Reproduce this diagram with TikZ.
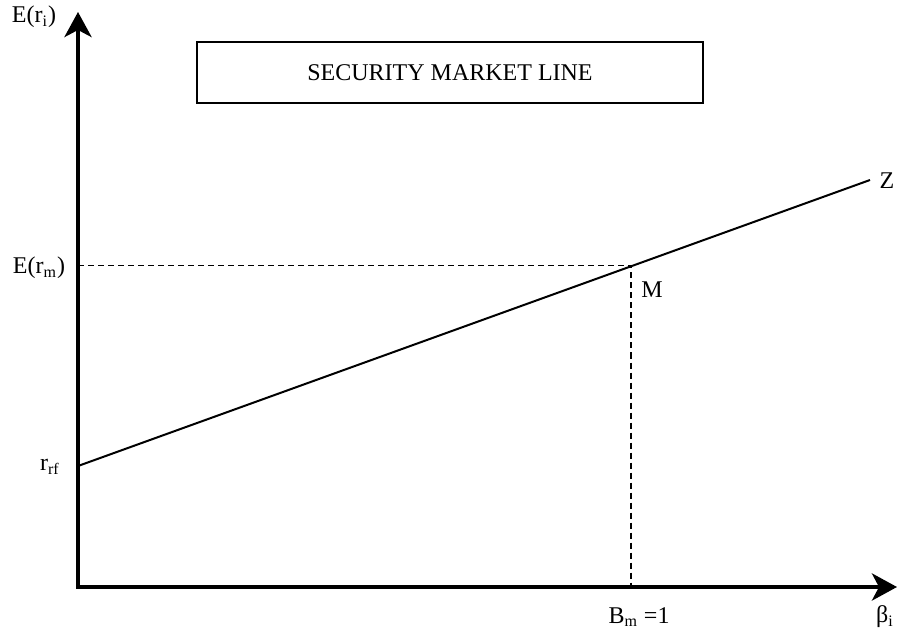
\documentclass[tikz,border=0pt]{standalone}
\usepackage{fontspec}
\setmainfont{Liberation Serif}
\usepackage{tikz}
\usetikzlibrary{arrows.meta, calc}
\tikzset{
  axisline/.style={line width=2.1pt, line join=miter,
    {Stealth[length=12.5pt,width=13.5pt,inset=3.5pt]}-{Stealth[length=12.5pt,width=13.5pt,inset=3.5pt]}},
  smlline/.style={line width=1pt},
  guide/.style={line width=0.8pt, dash pattern=on 3pt off 2pt},
  lbl/.style={inner sep=0pt, font=\fontsize{12}{14}\selectfont},
}

\begin{document}
\begin{tikzpicture}[x=0.5pt, y=-0.5pt]
\useasboundingbox (0,0) rectangle (898,630);
% axes and the points on the line
\coordinate (O) at ($(78,587)$);
\coordinate (Ytop) at ($(78,12)$);
\coordinate (Xend) at ($(897,587)$);
\coordinate (Rf) at ($(78,466)$);
\coordinate (Z) at ($(870,180)$);
\coordinate (M) at ($(631,265.5)$);
\coordinate (Ym) at (O |- M);
\coordinate (Xm) at (O -| M);

\draw[axisline] (Ytop) -- (O) -- (Xend);
\draw[smlline] (Rf) -- (Z);
\draw[guide] (Ym) -- (M) -- (Xm);

\node[draw, line width=1pt, minimum width=253pt, minimum height=30.5pt, lbl]
  (title) at (450,72.5) {SECURITY MARKET LINE};

\node[lbl] (Eri) at (34,17) {E(r\textsubscript{i})};
\node[lbl] (Erm) at (39,268) {E(r\textsubscript{m})};
\node[lbl] (rrf) at (50,467) {r\textsubscript{rf}};
\node[lbl] (Bm) at (639,617) {B\textsubscript{m} =1};
\node[lbl] (beta) at (885,617) {β\textsubscript{i}};
\node[lbl] (Mlab) at (652,290) {M};
\node[lbl] (Zlab) at (887,181) {Z};
\end{tikzpicture}
\end{document}
